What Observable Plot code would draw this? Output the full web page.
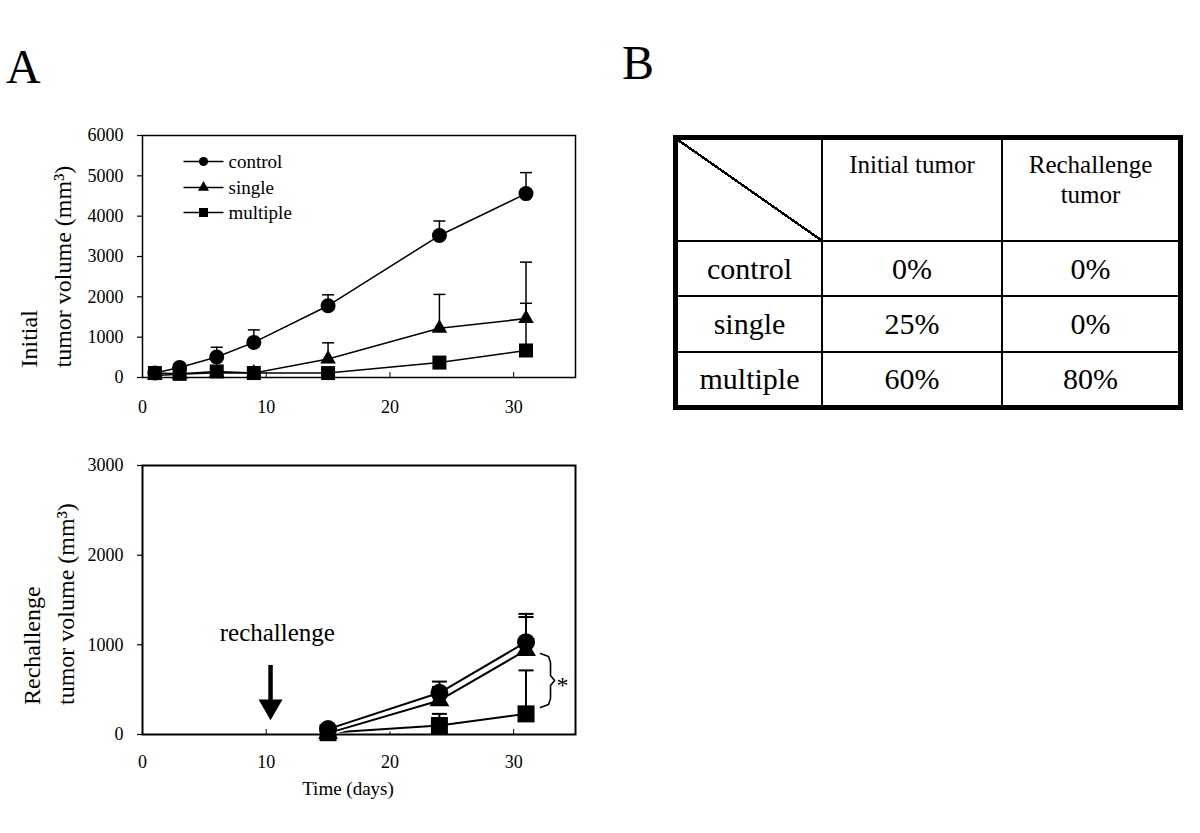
<!DOCTYPE html>
<html>
<head>
<meta charset="utf-8">
<script src="https://cdn.jsdelivr.net/npm/d3@7"></script>
<script src="https://cdn.jsdelivr.net/npm/@observablehq/plot@0.6"></script>
<style>
  html, body { margin: 0; padding: 0; background: #fff; }
  body { font-family: "Liberation Serif", "Times New Roman", serif; color: #000; }
  #page { position: relative; width: 1200px; height: 833px; overflow: hidden; background: #fff; }
  .panel { position: absolute; font-size: 48px; line-height: 48px; }
  #chartTop { position: absolute; left: 0; top: 100px; }
  #chartBottom { position: absolute; left: 0; top: 430px; }
  #tbl { position: absolute; left: 673px; top: 135px; width: 510px; height: 275px; box-sizing: border-box;
         border: 5px solid #000; display: grid; grid-template-columns: 145px 180px 1fr;
         grid-template-rows: 102px 55px 56px 1fr; }
  .cell { box-sizing: border-box; border-right: 2px solid #000; border-bottom: 2px solid #000;
          display: flex; align-items: center; justify-content: center; font-size: 30px; }
  .cell.lastcol { border-right: none; }
  .cell.lastrow { border-bottom: none; }
  .cell.head { align-items: flex-start; font-size: 25px; line-height: 30px; padding-top: 10px;
               white-space: pre-line; text-align: center; }
  .cell.diag { background: linear-gradient(to top right, transparent calc(50% - 1.2px), #000 calc(50% - 1.2px),
               #000 calc(50% + 1.2px), transparent calc(50% + 1.2px)); }
</style>
</head>
<body>
<div id="page">
  <div class="panel" style="left:6px;top:43px;">A</div>
  <div class="panel" style="left:622px;top:39px;">B</div>
  <div id="chartTop"></div>
  <div id="chartBottom"></div>
  <div id="tbl"></div>
</div>
<script>
// ---------- data ----------
const seriesNames = ["control", "single", "multiple"];
const xTicks = [0, 10, 20, 30];
const initialYTicks = [0, 1000, 2000, 3000, 4000, 5000, 6000];
const rechallengeYTicks = [0, 1000, 2000, 3000];

const initialDays = [1, 3, 6, 9, 15, 24, 31];
const initialControl = [110, 250, 510, 870, 1780, 3520, 4560];
const initialControlErr = [30, 50, 240, 310, 270, 360, 520];
const initialSingle = [50, 80, 120, 110, 460, 1220, 1460];
const initialSingleErr = [20, 30, 40, 50, 400, 840, 1400];
const initialMultiple = [110, 90, 150, 110, 110, 370, 670];
const initialMultipleErr = [30, 30, 40, 150, 40, 80, 1170];

const rechallengeDays = [15, 24, 31];
const rechallengeControl = [60, 465, 1030];
const rechallengeControlErr = [20, 125, 315];
const rechallengeSingle = [15, 380, 940];
const rechallengeSingleErr = [10, 150, 370];
const rechallengeMultiple = [20, 100, 230];
const rechallengeMultipleErr = [10, 130, 485];

// annotations (bottom chart)
const rechallengeText = [{day: 10.9, value: 1130, text: "rechallenge"}];
const arrowShaft = [{day: 10.35, from: 770, to: 380}];
const arrowHead = [{day: 10.35, value: 312}];
const bracketDays = [32.17, 32.82, 32.98, 32.98, 33.31, 32.98, 32.98, 32.82, 32.17];
const bracketValues = [903, 870, 803, 658, 602, 546, 401, 335, 301];
const significance = [{day: 33.95, value: 545, text: "*"}];

// table
const tableHeaders = ["Initial tumor", "Rechallenge\ntumor"];
const initialRejection = ["0%", "25%", "60%"];
const rechallengeRejection = ["0%", "0%", "80%"];

// ---------- helpers ----------
const symbols = {control: "circle", single: "triangle", multiple: "square"};
const hline = (w) => ({draw(ctx) { ctx.moveTo(-w, 0); ctx.lineTo(w, 0); }});
function makeSeries(days, means, errs, name) {
  return days.map((d, i) => ({day: d, value: means[i], top: means[i] + errs[i], name}));
}
const fontFamily = "'Liberation Serif', 'Times New Roman', serif";

// ---------- top chart ----------
const initialData = {
  control: makeSeries(initialDays, initialControl, initialControlErr, "control"),
  single: makeSeries(initialDays, initialSingle, initialSingleErr, "single"),
  multiple: makeSeries(initialDays, initialMultiple, initialMultipleErr, "multiple")
};
const topR = {control: 7.5, single: 5.8, multiple: 7.9};
const legendR = {control: 4.6, single: 4.1, multiple: 5.1};

const topMarks = [
  Plot.axisY({ticks: initialYTicks, tickSize: 5, tickPadding: 14, tickFormat: "d", label: null, strokeWidth: 1.2}),
  Plot.axisX({ticks: xTicks, tickSize: -5, tickPadding: 28, tickFormat: "d", label: null, strokeWidth: 1}),
];
for (const name of ["multiple", "single", "control"]) {
  const d = initialData[name];
  topMarks.push(Plot.ruleX(d, {x: "day", y1: "value", y2: "top", stroke: "black", strokeWidth: 1.5}));
  topMarks.push(Plot.dot(d, {x: "day", y: "top", symbol: hline(6), stroke: "black", strokeWidth: 1.5, fill: "none"}));
}
for (const name of ["multiple", "single", "control"]) {
  const d = initialData[name];
  topMarks.push(Plot.line(d, {x: "day", y: "value", stroke: "black", strokeWidth: 1.5}));
  topMarks.push(Plot.dot(d, {x: "day", y: "value", symbol: symbols[name], r: topR[name], fill: "black", stroke: "none"}));
}
seriesNames.forEach((name, i) => {
  const dy = [26, 52, 77][i];
  topMarks.push(Plot.dot([name], {frameAnchor: "top-left", dx: 61, dy, symbol: hline(20), stroke: "black", strokeWidth: 1.5, fill: "none"}));
  topMarks.push(Plot.dot([name], {frameAnchor: "top-left", dx: 61, dy, symbol: symbols[name], r: legendR[name], fill: "black", stroke: "none"}));
  topMarks.push(Plot.text([name], {frameAnchor: "top-left", dx: 86, dy, text: (t) => t, textAnchor: "start", lineAnchor: "middle", fontSize: 19}));
});
topMarks.push(Plot.text(["Initial\ntumor volume (mm³)"], {frameAnchor: "left", dx: -99, dy: 111, rotate: -90, textAnchor: "start", lineAnchor: "middle", lineHeight: 1.4, text: (t) => t, fontSize: 24}));
topMarks.push(Plot.frame({stroke: "black", strokeWidth: 1.5}));

const topPlot = Plot.plot({
  width: 600, height: 320,
  marginLeft: 142, marginRight: 25, marginTop: 35, marginBottom: 43,
  x: {domain: [0, 35]},
  y: {domain: [0, 6000]},
  style: {fontFamily, fontSize: "18px", color: "black", background: "transparent", overflow: "visible"},
  marks: topMarks
});
document.getElementById("chartTop").append(topPlot);

// ---------- bottom chart ----------
const rechData = {
  control: makeSeries(rechallengeDays, rechallengeControl, rechallengeControlErr, "control"),
  single: makeSeries(rechallengeDays, rechallengeSingle, rechallengeSingleErr, "single"),
  multiple: makeSeries(rechallengeDays, rechallengeMultiple, rechallengeMultipleErr, "multiple")
};
const botR = {control: 9, single: 7.4, multiple: 9.6};
const botMarks = [
  Plot.axisY({ticks: rechallengeYTicks, tickSize: 5, tickPadding: 14, tickFormat: "d", label: null, strokeWidth: 1.2}),
  Plot.axisX({ticks: xTicks, tickSize: -5, tickPadding: 26, tickFormat: "d", label: null, strokeWidth: 1}),
];
for (const name of ["multiple", "single", "control"]) {
  const d = rechData[name];
  botMarks.push(Plot.ruleX(d, {x: "day", y1: "value", y2: "top", stroke: "black", strokeWidth: 2}));
  botMarks.push(Plot.dot(d, {x: "day", y: "top", symbol: hline(7.5), stroke: "black", strokeWidth: 2, fill: "none"}));
}
for (const name of ["multiple", "single", "control"]) {
  const d = rechData[name];
  botMarks.push(Plot.line(d, {x: "day", y: "value", stroke: "white", strokeWidth: 5.5}));
  botMarks.push(Plot.line(d, {x: "day", y: "value", stroke: "black", strokeWidth: 2}));
  botMarks.push(Plot.dot(d, {x: "day", y: "value", symbol: symbols[name], r: botR[name], fill: "black", stroke: "none"}));
}
botMarks.push(Plot.text(rechallengeText, {x: "day", y: "value", text: "text", fontSize: 25, lineAnchor: "middle"}));
botMarks.push(Plot.ruleX(arrowShaft, {x: "day", y1: "from", y2: "to", stroke: "black", strokeWidth: 4.5}));
botMarks.push(Plot.dot(arrowHead, {x: "day", y: "value", symbol: "triangle", rotate: 180, r: 8.9, fill: "black", stroke: "none"}));
botMarks.push(Plot.line(bracketDays.map((d, i) => ({day: d, value: bracketValues[i]})), {x: "day", y: "value", stroke: "black", strokeWidth: 1.6}));
botMarks.push(Plot.text(significance, {x: "day", y: "value", text: "text", fontSize: 24, lineAnchor: "middle"}));
botMarks.push(Plot.text(["Time (days)"], {frameAnchor: "bottom", dx: -11, dy: 54, text: (t) => t, lineAnchor: "middle", fontSize: 19}));
botMarks.push(Plot.text(["Rechallenge\ntumor volume (mm³)"], {frameAnchor: "left", dx: -96, dy: 105, rotate: -90, textAnchor: "start", lineAnchor: "middle", lineHeight: 1.4, text: (t) => t, fontSize: 24}));
botMarks.push(Plot.frame({stroke: "black", strokeWidth: 2}));

const botPlot = Plot.plot({
  width: 600, height: 374,
  marginLeft: 142, marginRight: 25, marginTop: 35, marginBottom: 70,
  x: {domain: [0, 35]},
  y: {domain: [0, 3000]},
  style: {fontFamily, fontSize: "18px", color: "black", background: "transparent", overflow: "visible"},
  marks: botMarks
});
document.getElementById("chartBottom").append(botPlot);

// ---------- table (panel B) ----------
const tbl = document.getElementById("tbl");
const cells = [{text: "", cls: "diag"}];
tableHeaders.forEach((h) => cells.push({text: h, cls: "head"}));
seriesNames.forEach((n, i) => {
  cells.push({text: n}); cells.push({text: initialRejection[i]}); cells.push({text: rechallengeRejection[i]});
});
cells.forEach((c, k) => {
  const div = document.createElement("div");
  div.className = "cell" + (c.cls ? " " + c.cls : "");
  if (k % 3 === 2) div.classList.add("lastcol");
  if (k >= 9) div.classList.add("lastrow");
  div.textContent = c.text;
  tbl.append(div);
});
</script>
</body>
</html>
